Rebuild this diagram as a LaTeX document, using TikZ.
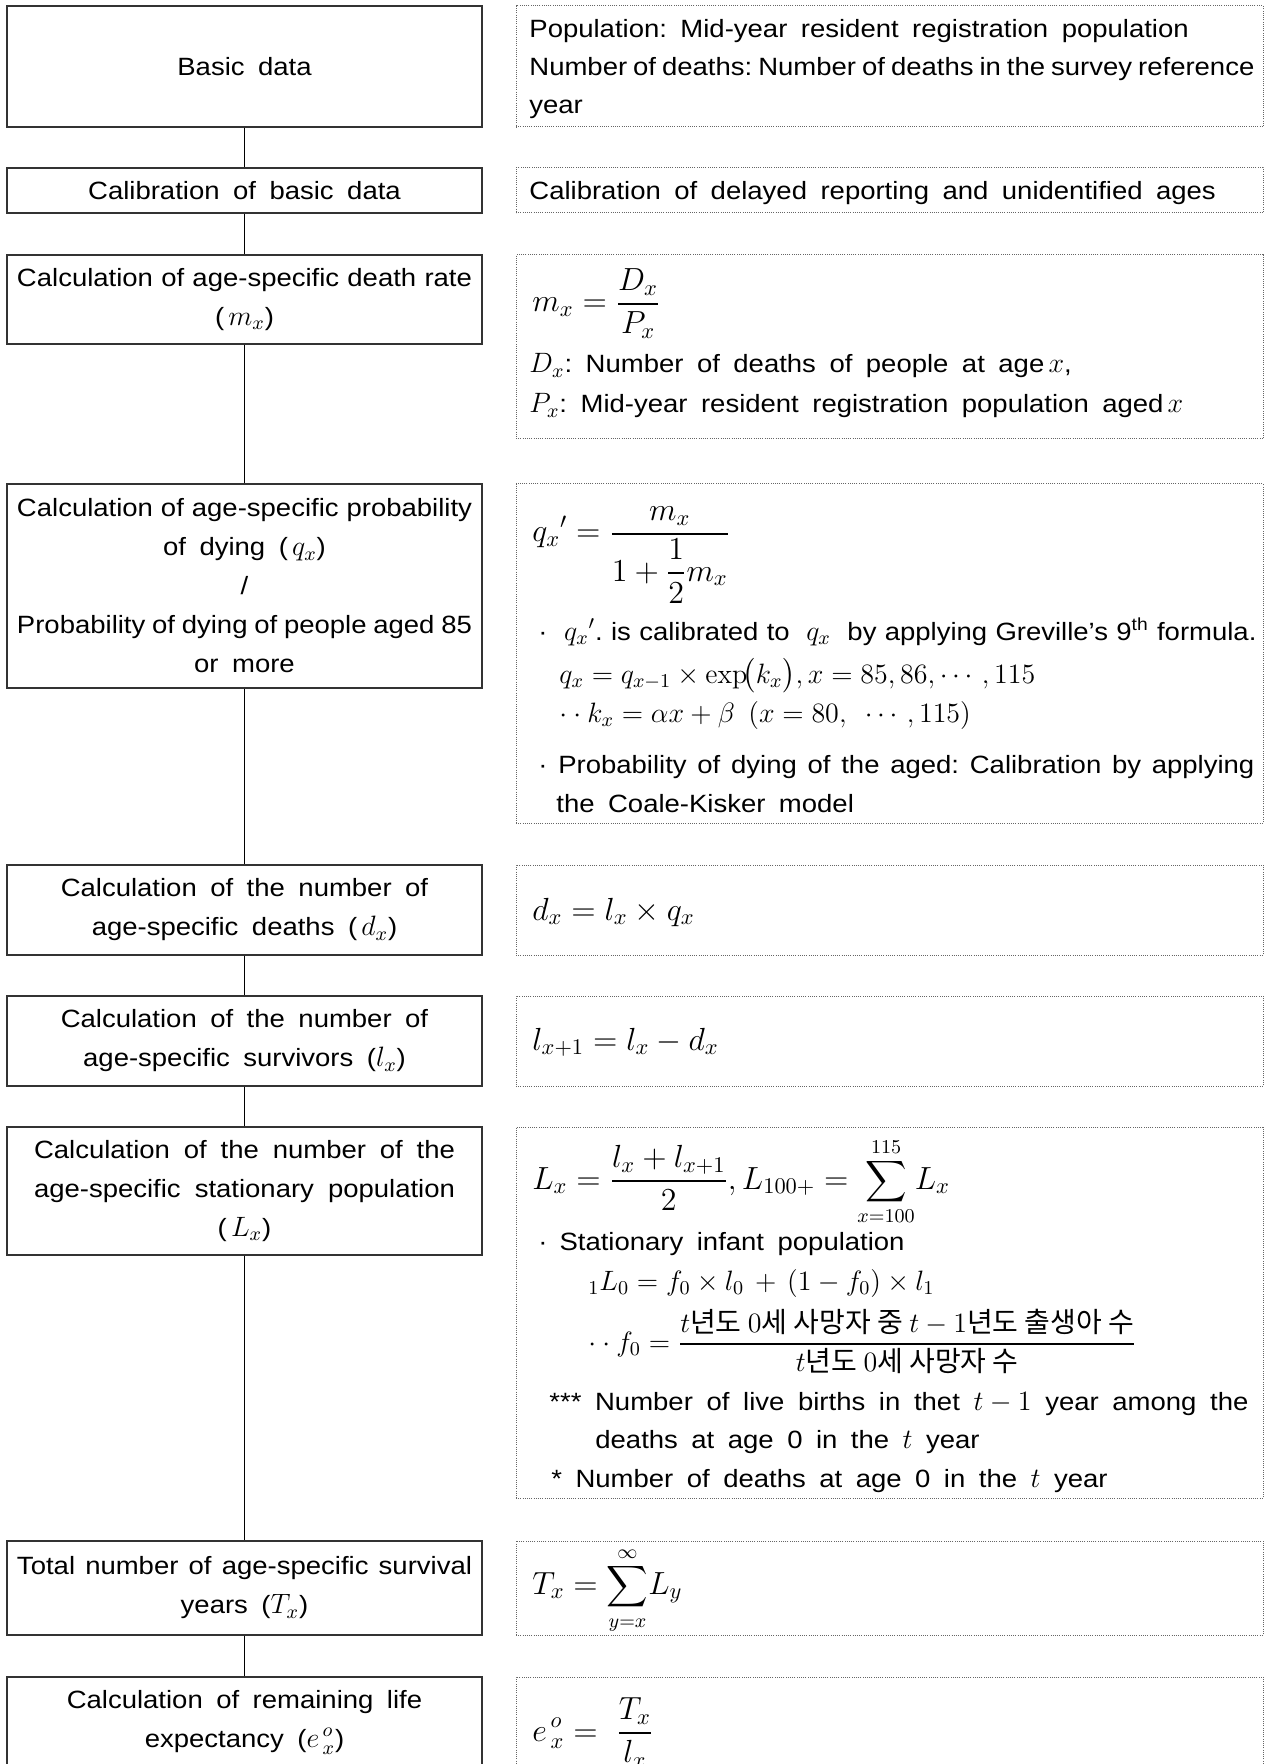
\RequirePackage{fix-cm}
\documentclass[tikz,border=0pt]{standalone}
\usepackage{amsmath}
\usepackage[no-math]{fontspec}
\setmainfont{Liberation Sans}[FakeStretch=1.1]
\newfontfamily\kr{Noto Sans CJK KR}
\newlength\px
\setlength\px{0.5pt}
\newcommand\tf{\fontsize{12.5}{19.5}\selectfont\spaceskip=6.75pt plus 3pt minus 4pt\relax\xspaceskip=\spaceskip}
\newcommand\fm{\fontsize{16}{19.5}\selectfont}
\newcommand\im[1]{{\fontsize{14}{19.5}\selectfont$#1$}}
\newcommand\sm[1]{\mbox{\fontsize{14}{19.5}\selectfont$\displaystyle#1$}}
\newcommand\jl[2]{\makebox[#1\px][s]{#2}}
\newcommand\ko[1]{\text{\kr\spaceskip=0pt\relax #1}}
\begin{document}
\begin{tikzpicture}[x=0.5pt,y=-0.5pt,
  lbox/.style={draw=black!80, line width=0.65pt, minimum width=475\px, inner sep=0pt, align=center, font=\tf},
  rbox/.style={draw=black!60, line width=0.5pt, dash pattern=on 0.5pt off 0.6pt, minimum width=747\px, inner sep=0pt},
  txt/.style={anchor=base west, inner sep=0pt, font=\tf},
  mtxt/.style={anchor=base west, inner sep=0pt, font=\fm},
  link/.style={draw=black, line width=0.5pt}]
\useasboundingbox (0,0) rectangle (1267,1764);
\clip (0,0) rectangle (1267,1764);
\fill[white] (0,0) rectangle (1267,1764);

% left boxes
\node[lbox, minimum height=121\px] (b1) at (244.5,66.5) {Basic data};
\node[lbox, minimum height=45\px] (b2) at (244.5,190.5) {Calibration of basic data};
\node[lbox, minimum height=89\px] (b3) at (244.5,299.5) {\jl{455}{Calculation of age-specific death rate}\\(\,\im{m_x})};
\node[lbox, minimum height=204\px] (b4) at (244.5,586) {\jl{455}{Calculation of age-specific probability}\\of dying (\,\im{q_x})\\/\\\jl{455}{Probability of dying of people aged 85}\\or more};
\node[lbox, minimum height=90\px] (b5) at (244.5,910) {Calculation of the number of\\age-specific deaths (\,\im{d_x})};
\node[lbox, minimum height=90\px] (b6) at (244.5,1041) {Calculation of the number of\\age-specific survivors (\im{l_x})};
\node[lbox, minimum height=128\px] (b7) at (244.5,1191) {\jl{421}{Calculation of the number of the}\\\jl{421}{age-specific stationary population}\\(\,\im{L_x})};
\node[lbox, minimum height=94\px] (b8) at (244.5,1588) {\jl{455}{Total number of age-specific survival}\\years (\im{T_x})};
\node[lbox, minimum height=90\px] (b9) at (244.5,1722) {Calculation of remaining life\\expectancy (\im{e^{\,o}_{\,x}})};

% connectors
\draw[link] (b1) -- (b2);
\draw[link] (b2) -- (b3);
\draw[link] (b3) -- (b4);
\draw[link] (b4) -- (b5);
\draw[link] (b5) -- (b6);
\draw[link] (b6) -- (b7);
\draw[link] (b7) -- (b8);
\draw[link] (b8) -- (b9);

% right boxes
\node[rbox, minimum height=121\px] (r1) at (889.5,66.5) {};
\node[rbox, minimum height=45\px] (r2) at (889.5,190.5) {};
\node[rbox, minimum height=184\px] (r3) at (889.5,347) {};
\node[rbox, minimum height=339\px] (r4) at (889.5,653.5) {};
\node[rbox, minimum height=90\px] (r5) at (889.5,910) {};
\node[rbox, minimum height=90\px] (r6) at (889.5,1041) {};
\node[rbox, minimum height=371\px] (r7) at (889.5,1312.5) {};
\node[rbox, minimum height=94\px] (r8) at (889.5,1588) {};
\node[rbox, minimum height=90\px] (r9) at (889.5,1722) {};

% right texts
\node[txt] (t1a) at (529,38) {Population: Mid-year resident registration population};
\node[txt] (t1b) at (529,76) {\jl{725}{Number of deaths: Number of deaths in the survey reference}};
\node[txt] (t1c) at (529,114) {year};
\node[txt] (t2) at (529,200) {Calibration of delayed reporting and unidentified ages};

\node[mtxt] (t3a) at (532,312) {$\displaystyle m_x=\frac{D_x}{P_x}$};
\node[txt] (t3b) at (529,373) {\im{D_x}: Number of deaths of people at age\,\im{x},};
\node[txt] (t3c) at (529,413) {\im{P_x}: Mid-year resident registration population aged\,\im{x}};

\node[mtxt] (t4a) at (532,542) {$\displaystyle q_x{}'=\frac{m_x}{1+\dfrac{1}{2}m_x}$};
\node[txt] (t4b) at (538,640) {\jl{718}{·\ \ \im{q_x{}'}. is calibrated to \ \im{q_x} \ by applying Greville's 9\textsuperscript{th} formula.}};
\node[txt] (t4c) at (559,683) {\im{q_x=q_{x-1}\times\exp\!\bigl(k_x\bigr), x=85, 86, \cdots, 115}};
\node[txt] (t4d) at (559,722) {\im{\cdot\cdot k_x=\alpha x+\beta\ (x=80,\ \cdots, 115)}};
\node[txt] (t4e) at (538,773) {\jl{716}{· Probability of dying of the aged: Calibration by applying}};
\node[txt] (t4f) at (556,812) {the Coale-Kisker model};

\node[mtxt] (t5) at (532,920) {$d_x = l_x\times q_x$};
\node[mtxt] (t6) at (532,1050) {$l_{x+1}=l_x-d_x$};

\node[mtxt] (t7a) at (532,1189) {$\displaystyle L_x=\frac{l_x+l_{x+1}}{2}, L_{100+}=\sm{\sum_{x=100}^{115}}L_x$};
\node[txt] (t7b) at (538,1250) {·\hspace{12\px}Stationary infant population};
\node[txt] (t7c) at (588,1290) {\im{{}_1L_0=f_0\times l_0\,+\,(1-f_0)\times l_1}};
\node[txt] (t7d) at (588,1351) {\fontsize{14}{19.5}\selectfont$\displaystyle \cdot\cdot f_0=\frac{t\ko{년도 }0\ko{세 사망자 중 }t-1\ko{년도 출생아 수}}{t\ko{년도 }0\ko{세 사망자 수}}$};
\node[txt] (t7e) at (549,1410) {\jl{699}{*** Number of live births in thet \im{t-1} year among the}};
\node[txt] (t7f) at (595,1448) {deaths at age 0 in the \im{t} year};
\node[txt] (t7g) at (551,1487) {* Number of deaths at age 0 in the \im{t} year};

\node[mtxt] (t8) at (532,1594) {$\displaystyle T_x=\sm{\sum_{y=x}^{\infty}}L_y$};
\node[mtxt] (t9) at (532,1741) {$\displaystyle e^{\,o}_{\,x}=\ \frac{T_x}{l_x}$};
\end{tikzpicture}
\end{document}
